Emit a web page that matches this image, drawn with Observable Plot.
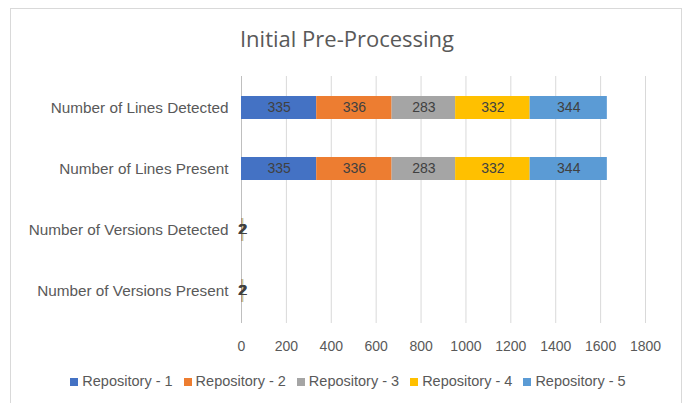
<!DOCTYPE html>
<html>
<head>
<meta charset="utf-8">
<script src="https://cdn.jsdelivr.net/npm/d3@7"></script>
<script src="https://cdn.jsdelivr.net/npm/@observablehq/plot@0.6"></script>
<style>
  body { margin: 0; background: #fff; font-family: "Liberation Sans", Arial, sans-serif; }
  #frame { position: absolute; left: 10px; top: 8px; width: 672px; height: 410px; border: 1px solid #d9d9d9; box-sizing: border-box; }
  #title { position: absolute; left: 0; top: 23px; width: 694px; text-align: center; font-size: 22px; color: #595959; font-family: "Open Sans", sans-serif; }
  #chart { position: absolute; left: 0; top: 62px; }
  #legend { position: absolute; left: 0; top: 373px; width: 696px; text-align: center; font-size: 14.5px; color: #595959; white-space: nowrap; }
  #legend span.item { margin: 0 5.5px; }
  #legend span.sw { display: inline-block; width: 8px; height: 8px; margin-right: 4px; vertical-align: 0px; }
</style>
</head>
<body>
<div id="frame"></div>
<div id="title">Initial Pre-Processing</div>
<div id="chart"></div>
<div id="legend"></div>
<script>
const categories = ["Number of Lines Detected", "Number of Lines Present", "Number of Versions Detected", "Number of Versions Present"];
const repositories = ["Repository - 1", "Repository - 2", "Repository - 3", "Repository - 4", "Repository - 5"];
const colors = ["#4472C4", "#ED7D31", "#A5A5A5", "#FFC000", "#5B9BD5"];
const linesDetected = [335, 336, 283, 332, 344];
const linesPresent = [335, 336, 283, 332, 344];
const versionsDetected = [2, 2, 2, 2, 2];
const versionsPresent = [2, 2, 2, 2, 2];
const xTicks = [0, 200, 400, 600, 800, 1000, 1200, 1400, 1600, 1800];

const series = [linesDetected, linesPresent, versionsDetected, versionsPresent];
const data = [];
categories.forEach((c, i) => repositories.forEach((r, j) => data.push({cat: c, repo: r, value: series[i][j]})));

const chart = Plot.plot({
  width: 689,
  height: 300,
  marginLeft: 241,
  marginRight: 44,
  marginTop: 14,
  marginBottom: 39,
  style: { fontFamily: "Liberation Sans, Arial, sans-serif", color: "#595959", background: "transparent" },
  x: { domain: [0, 1800], ticks: xTicks, label: null },
  y: { domain: categories, paddingInner: 0.62, paddingOuter: 0.31, label: null },
  color: { domain: repositories, range: colors },
  marks: [
    Plot.ruleX(xTicks.filter(d => d > 0), { stroke: "#d9d9d9", strokeWidth: 1 }),
    Plot.ruleX([0], { stroke: "#bfbfbf", strokeWidth: 1 }),
    Plot.barX(data, Plot.stackX({ x: "value", y: "cat", fill: "repo", order: repositories })),
    Plot.text(data, Plot.stackX({ x: "value", y: "cat", z: "repo", order: repositories, text: d => String(d.value), fill: "#404040", fontSize: 14 })),
    Plot.axisX({ ticks: xTicks, tickSize: 0, tickPadding: 18, fontSize: 14, fill: "#595959", label: null, tickFormat: d => String(d) }),
    Plot.axisY({ tickSize: 0, tickPadding: 13, fontSize: 15.3, fill: "#595959", label: null })
  ]
});
document.getElementById("chart").appendChild(chart);

const legend = document.getElementById("legend");
repositories.forEach((r, i) => {
  const item = document.createElement("span");
  item.className = "item";
  const sw = document.createElement("span");
  sw.className = "sw";
  sw.style.background = colors[i];
  item.appendChild(sw);
  item.appendChild(document.createTextNode(r));
  legend.appendChild(item);
});
</script>
</body>
</html>
